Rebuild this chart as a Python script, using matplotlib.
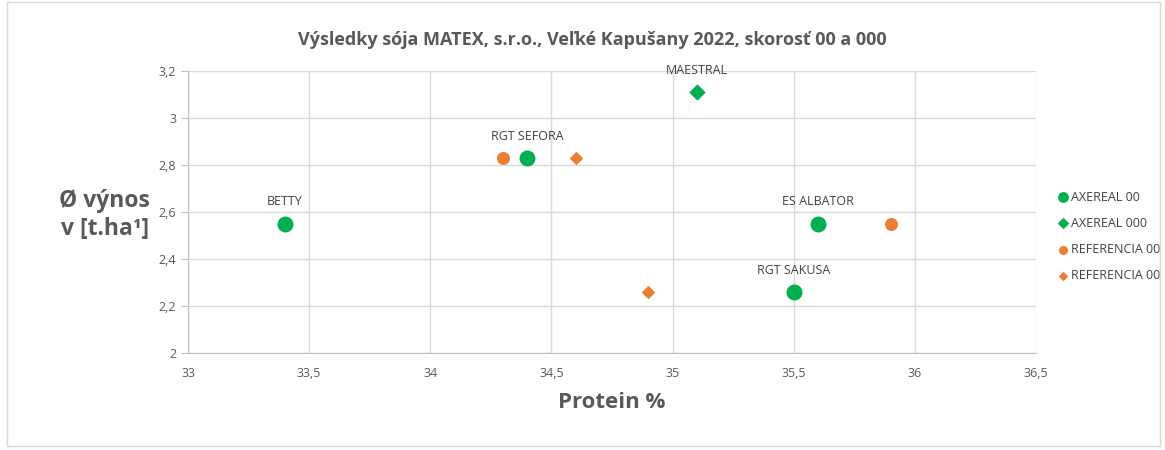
import matplotlib
matplotlib.use("Agg")
import matplotlib.pyplot as plt
from matplotlib.ticker import FuncFormatter, MultipleLocator

plt.rcParams['font.family'] = ['Open Sans', 'DejaVu Sans']

# Data
ax00_names = ["BETTY", "RGT SEFORA", "ES ALBATOR", "RGT SAKUSA"]
ax00_protein = [33.4, 34.4, 35.6, 35.5]
ax00_yield = [2.55, 2.83, 2.55, 2.26]

ax000_names = ["MAESTRAL"]
ax000_protein = [35.1]
ax000_yield = [3.11]

ref00_protein = [34.3, 35.9]
ref00_yield = [2.83, 2.55]

ref00d_protein = [34.6, 34.9]
ref00d_yield = [2.83, 2.26]

title = "Výsledky sója MATEX, s.r.o., Veľké Kapušany 2022, skorosť 00 a 000"
green = "#00B050"
orange = "#ED7D31"
gray = "#595959"

fig = plt.figure(figsize=(11.65, 4.5), dpi=100)
ax = fig.add_axes([0.1614, 0.2156, 0.7279, 0.6266])

ax.scatter(ax00_protein, ax00_yield, s=110, marker='o', color=green, label="AXEREAL 00", zorder=3)
ax.scatter(ax000_protein, ax000_yield, s=55, marker='D', color=green, label="AXEREAL 000", zorder=3)
ax.scatter(ref00_protein, ref00_yield, s=70, marker='o', color=orange, label="REFERENCIA 00", zorder=3)
ax.scatter(ref00d_protein, ref00d_yield, s=35, marker='D', color=orange, label="REFERENCIA 00", zorder=3)

for n, x, y in zip(ax00_names + ax000_names, ax00_protein + ax000_protein, ax00_yield + ax000_yield):
    ax.annotate(n, (x, y), xytext=(0, 11), textcoords='offset points', ha='center', va='bottom',
                fontsize=9, color='#404040')

ax.set_xlim(33, 36.5)
ax.set_ylim(2, 3.2)
ax.xaxis.set_major_locator(MultipleLocator(0.5))
ax.yaxis.set_major_locator(MultipleLocator(0.2))
fmt = FuncFormatter(lambda v, p: ("%g" % round(v, 2)).replace('.', ','))
ax.xaxis.set_major_formatter(fmt)
ax.yaxis.set_major_formatter(fmt)
ax.grid(True, color='#d9d9d9', linewidth=1)
ax.set_axisbelow(True)
for s in ['top', 'right']:
    ax.spines[s].set_visible(False)
for s in ['left', 'bottom']:
    ax.spines[s].set_color('#bfbfbf')
ax.tick_params(axis='both', colors='#bfbfbf', labelcolor=gray, labelsize=9, length=5)
ax.tick_params(axis='x', length=0, pad=10)

fig.text(0.508, 0.911, title, fontsize=13, fontweight='bold', color=gray, ha='center', va='center')
ax.set_xlabel("Protein %", fontsize=16, fontweight='bold', color=gray, labelpad=9)
fig.text(0.09, 0.522, "Ø výnos\nv [t.ha¹]", fontsize=16.5, fontweight='bold', color=gray,
         ha='center', va='center', linespacing=1.25)

ax.legend(loc='center left', bbox_to_anchor=(1.01, 0.414), frameon=False, fontsize=9,
          handletextpad=0.0, labelspacing=1.05, labelcolor='#404040', handlelength=1.2,
          markerscale=0.65)

fig.patches.append(plt.Rectangle((0.006, 0.01), 0.99, 0.985, transform=fig.transFigure,
                                 fill=False, edgecolor='#d9d9d9', linewidth=1))
fig.savefig("out.png", dpi=100)
